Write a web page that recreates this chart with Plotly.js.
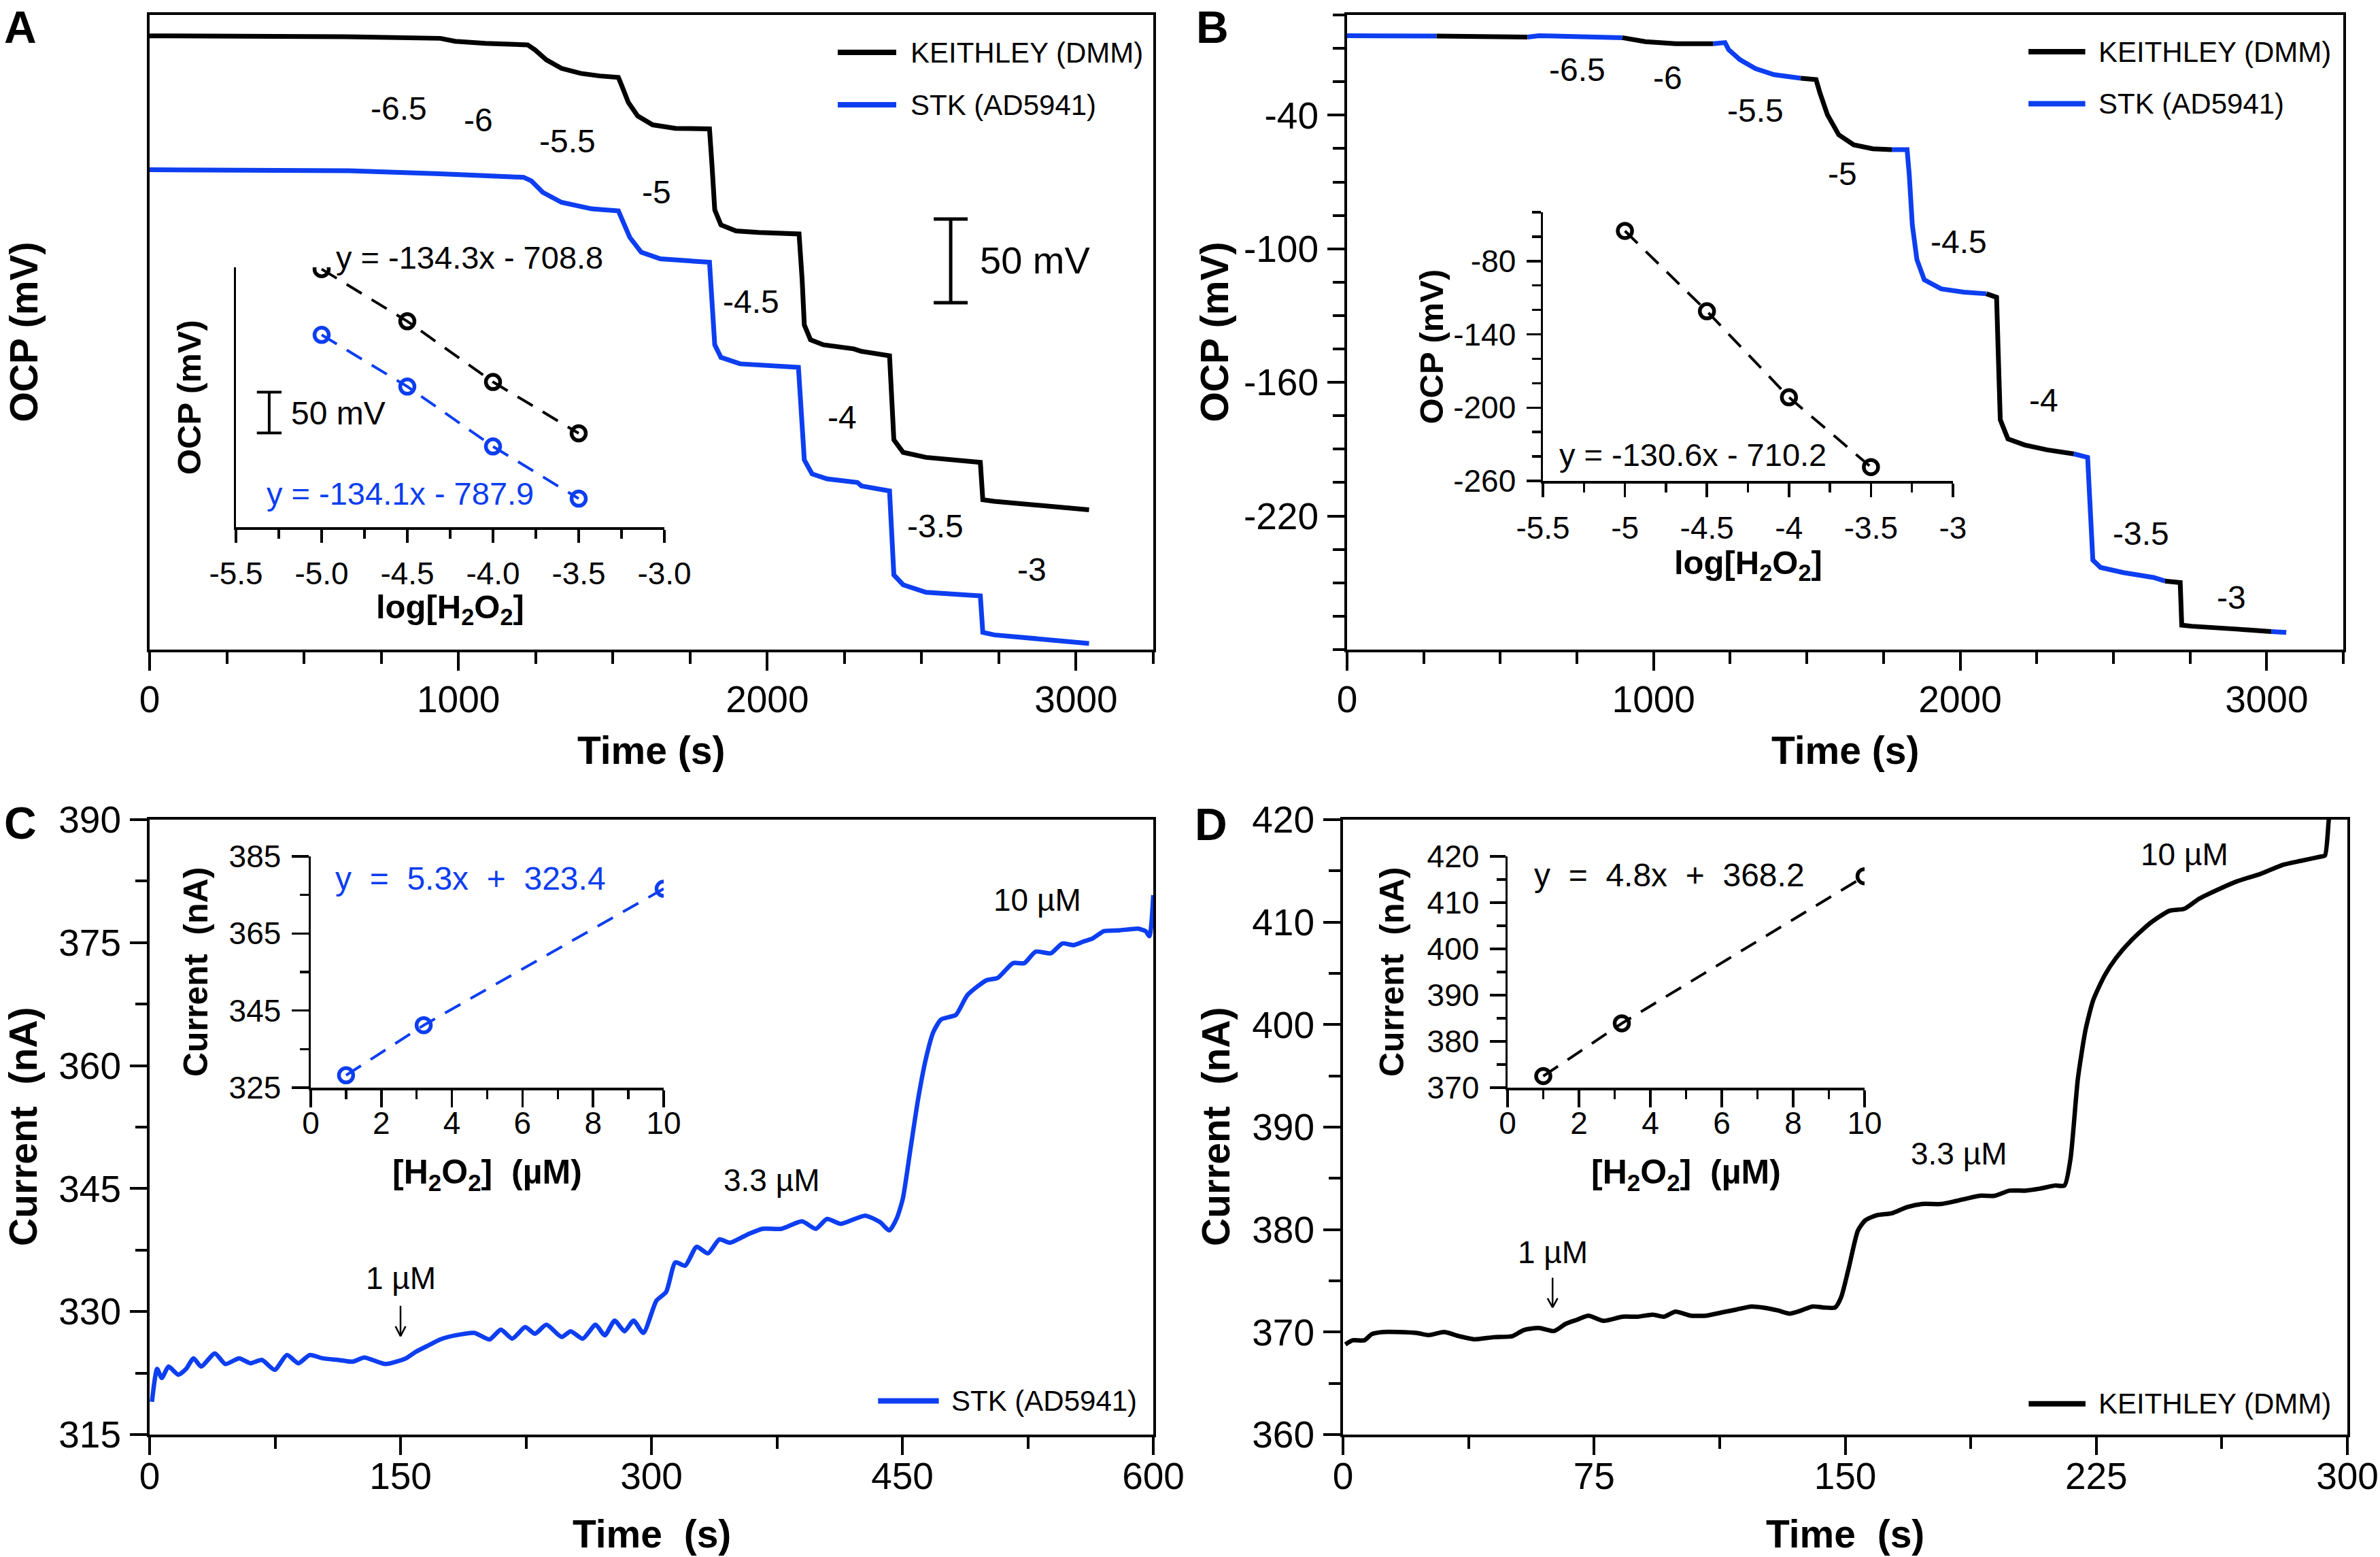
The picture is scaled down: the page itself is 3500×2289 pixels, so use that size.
<!DOCTYPE html>
<html>
<head>
<meta charset="utf-8">
<script src="https://cdn.plot.ly/plotly-3.0.1.min.js"></script>
<style>html,body{margin:0;padding:0;background:#fff;}</style>
</head>
<body>
<div id="chart" style="width:3500px;height:2289px;"></div>
<script>
// ================= DATA =================
// Panel A: OCP vs time (mV, relative scale; y axis unlabeled)
const timeA_keithley = [0, 499, 671, 941, 990, 1088, 1224, 1248, 1285, 1334, 1396, 1457, 1518, 1531, 1550, 1580, 1629, 1703, 1813, 1821, 1830, 1850, 1899, 1973, 2103, 2113, 2120, 2140, 2182, 2280, 2305, 2396, 2403, 2410, 2440, 2514, 2690, 2698, 2735, 3042];
const ocpA_keithley  = [17.5, 17.5, 16.9, 16.0, 14.2, 13.0, 12.1, 9.1, 3.1, -2.0, -5.0, -6.5, -7.4, -13.3, -22.3, -30.4, -35.8, -37.9, -38.2, -59.7, -86.7, -95.7, -99.3, -100.2, -101.1, -128.6, -155.6, -164.5, -167.5, -169.9, -171.4, -174.1, -200.5, -224.4, -231.9, -234.9, -237.9, -260.3, -261.2, -266.3];
const timeA_stk = [0, 646, 941, 1211, 1236, 1273, 1334, 1432, 1518, 1531, 1555, 1592, 1654, 1813, 1821, 1830, 1850, 1912, 2101, 2108, 2120, 2145, 2194, 2292, 2305, 2396, 2403, 2410, 2440, 2514, 2690, 2698, 2735, 3042];
const ocpA_stk  = [-62.7, -63.3, -65.1, -67.2, -69.3, -76.2, -82.2, -86.1, -87.3, -92.7, -103.2, -112.1, -116.0, -118.1, -140.6, -167.5, -175.0, -178.9, -181.0, -206.4, -236.4, -244.8, -247.8, -249.9, -252.0, -255.0, -284.3, -305.3, -311.2, -315.7, -317.8, -339.7, -341.2, -346.3];

// Inset A calibration
const logConc = [-5, -4.5, -4, -3.5];
const insetA_keithley = [-37.0, -101.0, -175.5, -238.5];
const insetA_stk      = [-117.7, -181.1, -254.6, -318.6];

// Panel B: combined OCP record, colour alternates between instruments
const timeB = [0, 292, 589, 626, 898, 973, 1072, 1195, 1233, 1245, 1282, 1332, 1393, 1480, 1530, 1542, 1567, 1604, 1653, 1715, 1777, 1827, 1834, 1844, 1859, 1883, 1938, 2012, 2086, 2119, 2124, 2131, 2156, 2210, 2284, 2371, 2416, 2423, 2433, 2458, 2532, 2631, 2668, 2718, 2723, 2755, 2903, 3015, 3064];
const ocpB  = [-4.3, -4.5, -4.9, -4.3, -5.2, -7.0, -7.9, -7.9, -7.4, -10.6, -15.1, -19.1, -21.8, -23.4, -24.0, -29.7, -39.8, -48.8, -53.3, -55.1, -55.5, -55.5, -66.7, -89.2, -104.9, -113.9, -118.0, -119.5, -120.2, -121.8, -145.4, -176.8, -185.4, -188.1, -190.3, -192.1, -193.7, -212.8, -239.8, -243.1, -245.4, -247.6, -249.2, -249.9, -269.0, -269.5, -270.8, -271.9, -272.3];
const switchTimesB = [292, 589, 898, 1195, 1480, 1777, 2086, 2371, 2668, 3015]; // instrument changes (first segment = STK)
const insetB_ocp = [-55.3, -121.1, -191.5, -248.7];

// Step labels (log[H2O2])
const stepLabels = ['-6.5', '-6', '-5.5', '-5', '-4.5', '-4', '-3.5', '-3'];

// Panel C: STK amperometry
const timeC = [1.4, 4.5, 7.3, 11.3, 17.2, 21.8, 26.3, 30.8, 39.0, 45.3, 53.5, 60.3, 67.1, 74.8, 82.1, 88.9, 95.7, 103.4, 112.5, 121.5, 128.3, 141.0, 153.3, 159.2, 166.9, 173.7, 182.8, 194.1, 203.2, 210.0, 216.8, 224.5, 230.4, 237.2, 246.3, 251.7, 259.0, 266.6, 272.1, 278.0, 283.9, 289.3, 295.2, 302.9, 308.8, 314.3, 320.2, 327.0, 333.8, 340.6, 346.9, 357.4, 366.4, 377.8, 390.0, 398.2, 405.0, 413.2, 427.7, 436.7, 442.2, 446.7, 450.3, 454.9, 459.4, 463.9, 468.5, 473.0, 477.5, 482.1, 488.9, 500.2, 507.0, 516.1, 522.9, 529.7, 538.8, 545.6, 552.4, 559.2, 563.7, 570.5, 579.6, 590.9, 595.4, 597.7, 600];
const currentC = [319.0, 323.0, 321.9, 323.3, 322.3, 323.0, 324.3, 323.3, 324.9, 323.6, 324.3, 323.7, 324.1, 322.9, 324.7, 323.7, 324.7, 324.3, 324.1, 323.9, 324.4, 323.6, 324.3, 325.1, 325.9, 326.6, 327.1, 327.4, 326.6, 327.8, 326.7, 328.1, 327.3, 328.4, 326.9, 327.6, 326.7, 328.4, 327.1, 328.9, 327.6, 328.9, 327.4, 331.3, 332.4, 336.0, 335.6, 337.9, 337.1, 338.8, 338.4, 339.4, 340.1, 340.1, 341.0, 340.1, 341.3, 340.7, 341.7, 340.9, 339.9, 341.4, 343.8, 349.9, 355.9, 360.7, 364.1, 365.6, 365.9, 366.2, 368.6, 370.4, 370.7, 372.5, 372.5, 373.9, 373.7, 374.9, 374.7, 375.2, 375.5, 376.4, 376.5, 376.7, 376.4, 375.8, 380.8];
const concUM = [1, 3.2, 10];
const insetC_current = [328.2, 341.2, 376.6];

// Panel D: KEITHLEY amperometry
const timeD = [0.7, 2.9, 6.4, 8.6, 12.0, 16.6, 22.2, 25.6, 30.2, 34.7, 39.2, 44.9, 50.6, 54.0, 58.5, 63.0, 66.5, 69.9, 73.3, 77.8, 83.5, 88.0, 92.5, 95.9, 99.3, 103.9, 108.4, 112.9, 117.5, 122.0, 125.4, 130.0, 133.4, 136.8, 140.2, 143.6, 147.0, 148.8, 151.1, 153.8, 156.0, 159.4, 164.0, 168.5, 173.0, 178.7, 183.3, 190.1, 194.6, 199.1, 203.7, 208.2, 212.7, 215.5, 217.3, 219.5, 221.8, 224.1, 227.5, 230.9, 235.4, 241.1, 246.8, 251.3, 255.8, 261.5, 267.2, 274.0, 280.8, 286.4, 292.1, 293.3, 294.4, 294.9];
const currentD = [368.8, 369.2, 369.2, 369.8, 370.0, 370.0, 369.9, 369.7, 370.0, 369.6, 369.3, 369.5, 369.6, 370.2, 370.4, 370.1, 370.8, 371.2, 371.6, 371.1, 371.5, 371.5, 371.7, 371.5, 372.0, 371.6, 371.6, 371.9, 372.2, 372.5, 372.4, 372.1, 371.8, 372.1, 372.5, 372.4, 372.4, 373.4, 376.3, 379.9, 380.9, 381.4, 381.6, 382.2, 382.5, 382.5, 382.8, 383.3, 383.3, 383.8, 383.8, 384.0, 384.3, 384.3, 386.9, 394.7, 399.5, 402.4, 404.8, 406.5, 408.2, 409.9, 411.1, 411.3, 412.3, 413.2, 414.0, 414.7, 415.6, 416.0, 416.4, 416.5, 419.8, 421.5];
const insetD_current = [372.5, 383.9, 415.7];

// Tick labels
const ticksA_x = [0, 1000, 2000, 3000];
const ticksB_y = [-220, -160, -100, -40];
const ticksB_y_text = ['-220', '-160', '-100', '-40'];
const ticksInsetA_x = [-5.5, -5.0, -4.5, -4.0, -3.5, -3.0];
const ticksInsetA_x_text = ['-5.5', '-5.0', '-4.5', '-4.0', '-3.5', '-3.0'];
const ticksInsetB_x_text = ['-5.5', '-5', '-4.5', '-4', '-3.5', '-3'];
const ticksInsetB_y = [-260, -200, -140, -80];
const ticksInsetB_y_text = ['-260', '-200', '-140', '-80'];

// Text
const eqA_keithley = 'y = -134.3x - 708.8';
const eqA_stk = 'y = -134.1x - 787.9';
const eqB = 'y = -130.6x - 710.2';
const eqC = 'y\u00a0\u00a0=\u00a0\u00a05.3x\u00a0\u00a0+\u00a0\u00a0323.4';
const eqD = 'y\u00a0\u00a0=\u00a0\u00a04.8x\u00a0\u00a0+\u00a0\u00a0368.2';

// ================= STYLE / LAYOUT =================
const FONT = 'Arial, "Liberation Sans", Helvetica, sans-serif';
const BLUE = '#0d3ef0';
const BLACK = '#000000';
const W = 3500, H = 2289;
const px = v => v / W;
const py = v => 1 - v / H;

function mainAxis(extra) {
  return Object.assign({
    showline: true, linewidth: 4, linecolor: BLACK, mirror: true,
    showgrid: false, zeroline: false,
    ticks: 'outside', ticklen: 27, tickwidth: 4, tickcolor: BLACK,
    ticklabelstandoff: 2,
    tickfont: {family: FONT, size: 55, color: BLACK},
    automargin: false, fixedrange: true
  }, extra);
}
function insetAxis(extra) {
  return Object.assign({
    showline: true, linewidth: 3.5, linecolor: BLACK, mirror: false,
    showgrid: false, zeroline: false,
    ticks: 'outside', ticklen: 21, tickwidth: 3.5, tickcolor: BLACK,
    ticklabelstandoff: 6,
    tickfont: {family: FONT, size: 46, color: BLACK},
    automargin: false, fixedrange: true
  }, extra);
}
function minorMain(tick0, dtick) {
  return {tickmode: 'linear', tick0: tick0, dtick: dtick, ticks: 'outside', ticklen: 17, tickwidth: 4, tickcolor: BLACK, showgrid: false};
}
function minorInset(tick0, dtick) {
  return {tickmode: 'linear', tick0: tick0, dtick: dtick, ticks: 'outside', ticklen: 13, tickwidth: 3.5, tickcolor: BLACK, showgrid: false};
}

const dashPat = '26px,17px';

// ================= TRACES =================
const traces = [];
traces.push({x: timeA_keithley, y: ocpA_keithley, xaxis: 'x', yaxis: 'y', mode: 'lines', line: {color: BLACK, width: 7}});
traces.push({x: timeA_stk, y: ocpA_stk, xaxis: 'x', yaxis: 'y', mode: 'lines', line: {color: BLUE, width: 7}});

function insetTrace(xs, ys, xa, ya, color) {
  return {x: xs, y: ys, xaxis: xa, yaxis: ya, mode: 'lines+markers',
    line: {color: color, width: 4, dash: dashPat},
    marker: {symbol: 'circle-open', size: 21, color: color, line: {color: color, width: 5.5}}};
}
traces.push(insetTrace(logConc, insetA_keithley, 'x5', 'y5', BLACK));
traces.push(insetTrace(logConc, insetA_stk, 'x5', 'y5', BLUE));

// Panel B: split the record where the instrument changes
(function () {
  let segX = [], segY = [], segIdx = 0;
  const colors = [BLUE, BLACK];
  for (let i = 0; i < timeB.length; i++) {
    segX.push(timeB[i]); segY.push(ocpB[i]);
    if (switchTimesB.indexOf(timeB[i]) >= 0 || i === timeB.length - 1) {
      traces.push({x: segX, y: segY, xaxis: 'x2', yaxis: 'y2', mode: 'lines', line: {color: colors[segIdx % 2], width: 7}});
      segIdx++;
      segX = [timeB[i]]; segY = [ocpB[i]];
    }
  }
})();
traces.push(insetTrace(logConc, insetB_ocp, 'x6', 'y6', BLACK));

traces.push({x: timeC, y: currentC, xaxis: 'x3', yaxis: 'y3', mode: 'lines', line: {color: BLUE, width: 6.5, shape: 'spline', smoothing: 0.6}});
traces.push(insetTrace(concUM, insetC_current, 'x7', 'y7', BLUE));
traces.push({x: timeD, y: currentD, xaxis: 'x4', yaxis: 'y4', mode: 'lines', line: {color: BLACK, width: 6.5, shape: 'spline', smoothing: 0.6}});
traces.push(insetTrace(concUM, insetD_current, 'x8', 'y8', BLACK));

// ================= ANNOTATIONS =================
const ann = [];
function txt(text, xref, x, yref, y, size, opts) {
  ann.push(Object.assign({text: text, xref: xref, x: x, yref: yref, y: y, showarrow: false,
    xanchor: 'center', yanchor: 'middle',
    font: {family: FONT, size: size, color: BLACK}}, opts || {}));
}
const bold = (size, color) => ({family: FONT, size: size, color: color || BLACK, weight: 'bold'});

// panel letters
txt('A', 'paper', px(30), 'paper', py(40), 66, {font: bold(66)});
txt('B', 'paper', px(1783), 'paper', py(40), 66, {font: bold(66)});
txt('C', 'paper', px(30), 'paper', py(1210), 66, {font: bold(66)});
txt('D', 'paper', px(1781), 'paper', py(1212), 66, {font: bold(66)});

// main axis titles
txt('Time (s)', 'x domain', 0.5, 'paper', py(1103), 57, {font: bold(57)});
txt('Time (s)', 'x2 domain', 0.5, 'paper', py(1103), 57, {font: bold(57)});
txt('OCP (mV)', 'paper', px(34), 'y domain', 0.5, 57, {font: bold(57), textangle: -90});
txt('OCP (mV)', 'paper', px(1785), 'y2 domain', 0.5, 57, {font: bold(57), textangle: -90});
txt('Time\u00a0\u00a0(s)', 'x3 domain', 0.5, 'paper', py(2255), 57, {font: bold(57)});
txt('Time\u00a0\u00a0(s)', 'x4 domain', 0.5, 'paper', py(2255), 57, {font: bold(57)});
txt('Current\u00a0\u00a0(nA)', 'paper', px(34), 'y3 domain', 0.5, 57, {font: bold(57), textangle: -90});
txt('Current\u00a0\u00a0(nA)', 'paper', px(1788), 'y4 domain', 0.5, 57, {font: bold(57), textangle: -90});

// inset axis titles
txt('OCP (mV)', 'paper', px(278), 'y5 domain', 0.5, 49, {font: bold(49), textangle: -90});
txt('log[H<sub>2</sub>O<sub>2</sub>]', 'x5 domain', 0.5, 'paper', py(895), 49, {font: bold(49)});
txt('OCP (mV)', 'paper', px(2104), 'y6 domain', 0.5, 49, {font: bold(49), textangle: -90});
txt('log[H<sub>2</sub>O<sub>2</sub>]', 'x6 domain', 0.5, 'paper', py(830), 49, {font: bold(49)});
txt('Current\u00a0\u00a0(nA)', 'paper', px(288), 'y7 domain', 0.5, 50, {font: bold(50), textangle: -90});
txt('[H<sub>2</sub>O<sub>2</sub>]\u00a0\u00a0(µM)', 'x7 domain', 0.5, 'paper', py(1726), 50, {font: bold(50)});
txt('Current\u00a0\u00a0(nA)', 'paper', px(2047), 'y8 domain', 0.5, 50, {font: bold(50), textangle: -90});
txt('[H<sub>2</sub>O<sub>2</sub>]\u00a0\u00a0(µM)', 'x8 domain', 0.5, 'paper', py(1726), 50, {font: bold(50)});

// equations
txt(eqA_keithley, 'x5', -4.923, 'paper', py(378), 47, {xanchor: 'left'});
txt(eqA_stk, 'x5', -5.328, 'y5', -312, 47, {xanchor: 'left', font: {family: FONT, size: 47, color: BLUE}});
txt(eqB, 'x6', -5.41, 'y6', -238.8, 47, {xanchor: 'left'});
txt(eqC, 'x7', 0.66, 'y7', 379.3, 48, {xanchor: 'left', font: {family: FONT, size: 48, color: BLUE}});
txt(eqD, 'x8', 0.71, 'y8', 416.0, 48, {xanchor: 'left'});

// step labels
const stepPosA = [[806, -26.2], [1064, -32.8], [1354, -45.4], [1641, -76.2], [1948, -141.5], [2243, -211], [2545, -276.2], [2857, -302.3]];
const stepPosB = [[750, -19.6], [1045, -23.4], [1332, -38], [1616, -66.3], [1995, -97], [2272, -167.9], [2589, -228], [2884, -256.6]];
stepLabels.forEach((s, i) => {
  txt(s, 'x', stepPosA[i][0], 'y', stepPosA[i][1], 48);
  txt(s, 'x2', stepPosB[i][0], 'y2', stepPosB[i][1], 48);
});

// scale bar labels
txt('50 mV', 'x', 2684, 'y', -117, 56, {xanchor: 'left'});
txt('50 mV', 'x5', -5.186, 'y5', -214, 48, {xanchor: 'left'});

// concentration labels in C and D
txt('1 µM', 'x3', 150, 'y3', 334.1, 46);
txt('3.3 µM', 'x3', 372, 'y3', 346.0, 46);
txt('10 µM', 'x3', 530.6, 'y3', 380.2, 46);
txt('1 µM', 'x4', 62.6, 'y4', 377.8, 46);
txt('3.3 µM', 'x4', 184, 'y4', 387.4, 46);
txt('10 µM', 'x4', 251.3, 'y4', 416.6, 46);

// legends (text)
txt('KEITHLEY (DMM)', 'x domain', 0.7568, 'y domain', 0.941, 42, {xanchor: 'left'});
txt('STK (AD5941)', 'x domain', 0.7568, 'y domain', 0.8585, 42, {xanchor: 'left'});
txt('KEITHLEY (DMM)', 'x2 domain', 0.7529, 'y2 domain', 0.942, 42, {xanchor: 'left'});
txt('STK (AD5941)', 'x2 domain', 0.7529, 'y2 domain', 0.860, 42, {xanchor: 'left'});
txt('STK (AD5941)', 'x3 domain', 0.7975, 'y3 domain', 0.0547, 42, {xanchor: 'left'});
txt('KEITHLEY (DMM)', 'x4 domain', 0.7507, 'y4 domain', 0.050, 42, {xanchor: 'left'});

// ================= SHAPES =================
const shapes = [];
function seg(xref, yref, x0, y0, x1, y1, color, width) {
  shapes.push({type: 'line', xref: xref, yref: yref, x0: x0, y0: y0, x1: x1, y1: y1,
    line: {color: color, width: width}});
}
// legend samples
seg('x domain', 'y domain', 0.6856, 0.941, 0.7439, 0.941, BLACK, 8);
seg('x domain', 'y domain', 0.6856, 0.8585, 0.7439, 0.8585, BLUE, 8);
seg('x2 domain', 'y2 domain', 0.684, 0.942, 0.741, 0.942, BLACK, 8);
seg('x2 domain', 'y2 domain', 0.684, 0.860, 0.741, 0.860, BLUE, 8);
seg('x3 domain', 'y3 domain', 0.7258, 0.0547, 0.7863, 0.0547, BLUE, 8);
seg('x4 domain', 'y4 domain', 0.6827, 0.050, 0.7393, 0.050, BLACK, 8);
// 50 mV scale bar (main A)
seg('x', 'y', 2594, -92.2, 2594, -142.3, BLACK, 5);
seg('x', 'y', 2539, -92.2, 2649, -92.2, BLACK, 5);
seg('x', 'y', 2539, -142.3, 2649, -142.3, BLACK, 5);
// 50 mV scale bar (inset A)
seg('x5', 'y5', -5.306, -188, -5.306, -238, BLACK, 4);
seg('x5', 'y5', -5.378, -188, -5.234, -188, BLACK, 4);
seg('x5', 'y5', -5.378, -238, -5.234, -238, BLACK, 4);
// "1 µM" arrows (C and D)
seg('x3', 'y3', 150, 330.7, 150, 327.0, BLACK, 2.5);
seg('x3', 'y3', 147.0, 328.2, 150, 327.0, BLACK, 2.5);
seg('x3', 'y3', 153.0, 328.2, 150, 327.0, BLACK, 2.5);
seg('x4', 'y4', 62.6, 375.3, 62.6, 372.4, BLACK, 2.5);
seg('x4', 'y4', 61.1, 373.3, 62.6, 372.4, BLACK, 2.5);
seg('x4', 'y4', 64.1, 373.3, 62.6, 372.4, BLACK, 2.5);

// ================= LAYOUT =================
const layout = {
  width: W, height: H,
  margin: {l: 0, r: 0, t: 0, b: 0, pad: 0},
  paper_bgcolor: '#ffffff', plot_bgcolor: 'rgba(0,0,0,0)',
  showlegend: false,
  font: {family: FONT, color: BLACK},
  // Panel A
  xaxis: mainAxis({domain: [px(220), px(1696)], range: [0, 3250], anchor: 'y',
    tickmode: 'array', tickvals: ticksA_x, ticklabelstandoff: -5, minor: minorMain(0, 250)}),
  yaxis: mainAxis({domain: [py(955), py(22)], range: [-350, 30], anchor: 'x',
    showticklabels: false, ticks: ''}),
  // Panel B
  xaxis2: mainAxis({domain: [px(1981), px(3446)], range: [0, 3250], anchor: 'y2',
    tickmode: 'array', tickvals: ticksA_x, ticklabelstandoff: -5, minor: minorMain(0, 250)}),
  yaxis2: mainAxis({domain: [py(955), py(22)], range: [-280, 5], anchor: 'x2',
    tickmode: 'array', tickvals: ticksB_y, ticktext: ticksB_y_text, ticklen: 25, minor: minorMain(-280, 15)}),
  // Panel C
  xaxis3: mainAxis({domain: [px(220), px(1696)], range: [0, 600], anchor: 'y3',
    tickmode: 'linear', tick0: 0, dtick: 150, ticklen: 26, ticklabelstandoff: -16, minor: minorMain(0, 75)}),
  yaxis3: mainAxis({domain: [py(2109), py(1205)], range: [315, 390], anchor: 'x3',
    tickmode: 'linear', tick0: 315, dtick: 15, ticklen: 25, minor: minorMain(315, 7.5)}),
  // Panel D
  xaxis4: mainAxis({domain: [px(1975), px(3452)], range: [0, 300], anchor: 'y4',
    tickmode: 'linear', tick0: 0, dtick: 75, ticklen: 26, ticklabelstandoff: -16, minor: minorMain(0, 37.5)}),
  yaxis4: mainAxis({domain: [py(2109), py(1205)], range: [360, 420], anchor: 'x4',
    tickmode: 'linear', tick0: 360, dtick: 10, ticklen: 25, minor: minorMain(360, 5)}),
  // Inset A
  xaxis5: insetAxis({domain: [px(347), px(977)], range: [-5.5, -3.0], anchor: 'y5',
    tickmode: 'array', tickvals: ticksInsetA_x, ticktext: ticksInsetA_x_text, ticklen: 19, minor: minorInset(-5.5, 0.25)}),
  yaxis5: insetAxis({domain: [py(775), py(393)], range: [-353.6, -34.8], anchor: 'x5',
    showticklabels: false, ticks: ''}),
  // Inset B
  xaxis6: insetAxis({domain: [px(2269), px(2872)], range: [-5.5, -3.0], anchor: 'y6',
    tickmode: 'array', tickvals: ticksInsetA_x, ticktext: ticksInsetB_x_text, ticklen: 20, minor: minorInset(-5.5, 0.25)}),
  yaxis6: insetAxis({domain: [py(707), py(312)], range: [-260, -40], anchor: 'x6',
    tickmode: 'array', tickvals: ticksInsetB_y, ticktext: ticksInsetB_y_text, minor: minorInset(-260, 20)}),
  // Inset C
  xaxis7: insetAxis({domain: [px(457), px(976)], range: [0, 10], anchor: 'y7',
    tickmode: 'linear', tick0: 0, dtick: 2, ticklen: 25, ticklabelstandoff: -16, minor: minorInset(0, 1)}),
  yaxis7: insetAxis({domain: [py(1599), py(1259)], range: [325, 385], anchor: 'x7',
    tickmode: 'linear', tick0: 325, dtick: 20, ticklen: 25, minor: minorInset(325, 10)}),
  // Inset D
  xaxis8: insetAxis({domain: [px(2217), px(2742)], range: [0, 10], anchor: 'y8',
    tickmode: 'linear', tick0: 0, dtick: 2, ticklen: 25, ticklabelstandoff: -16, minor: minorInset(0, 1)}),
  yaxis8: insetAxis({domain: [py(1599), py(1259)], range: [370, 420], anchor: 'x8',
    tickmode: 'linear', tick0: 370, dtick: 10, ticklen: 23, minor: minorInset(370, 5)}),
  annotations: ann,
  shapes: shapes
};

Plotly.newPlot('chart', traces, layout, {displayModeBar: false, staticPlot: true});
</script>
</body>
</html>
